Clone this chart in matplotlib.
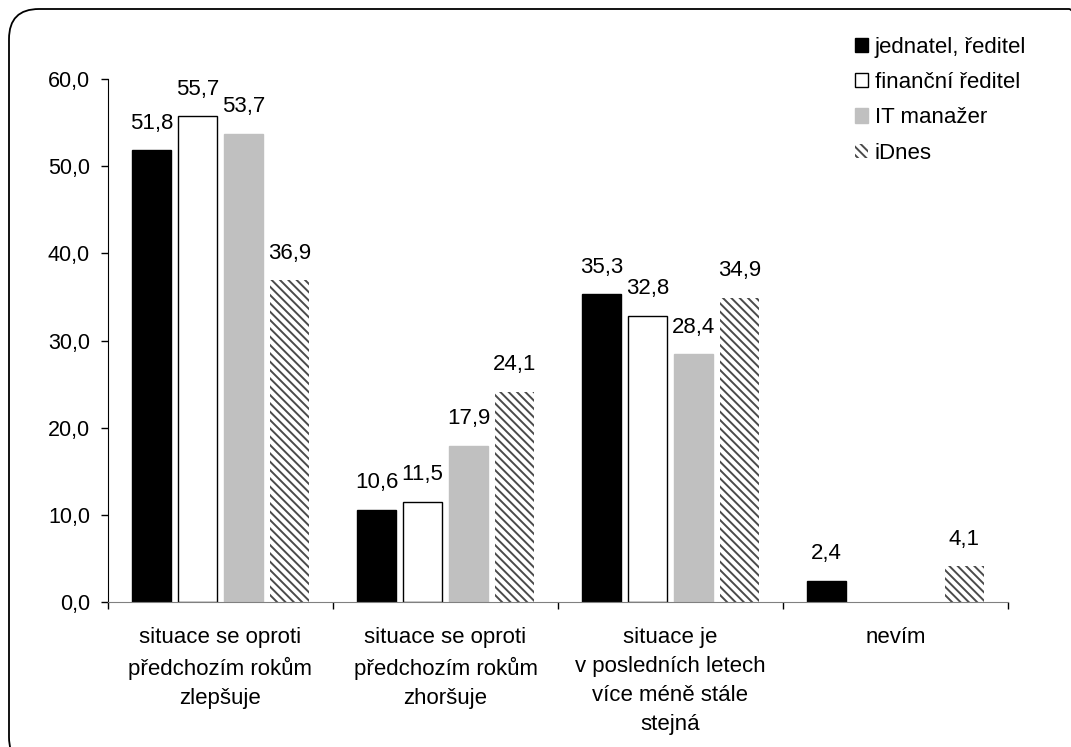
import numpy as np
import matplotlib
matplotlib.use("Agg")
import matplotlib.pyplot as plt
from matplotlib.patches import FancyBboxPatch

plt.rcParams['font.family'] = ['Liberation Sans', 'DejaVu Sans']
plt.rcParams['hatch.linewidth'] = 1.4

categories = ["situace se oproti\npředchozím rokům\nzlepšuje",
              "situace se oproti\npředchozím rokům\nzhoršuje",
              "situace je\nv posledních letech\nvíce méně stále\nstejná",
              "nevím"]
series_names = ["jednatel, ředitel", "finanční ředitel", "IT manažer", "iDnes"]
jednatel = [51.8, 10.6, 35.3, 2.4]
financni = [55.7, 11.5, 32.8, None]
it_manazer = [53.7, 17.9, 28.4, None]
idnes = [36.9, 24.1, 34.9, 4.1]
yticks = [0, 10, 20, 30, 40, 50, 60]

series = [jednatel, financni, it_manazer, idnes]
styles = [dict(color="black", edgecolor="black"),
          dict(color="white", edgecolor="black", linewidth=1),
          dict(color="#c0c0c0", edgecolor="#c0c0c0"),
          dict(color="white", edgecolor="#4a4a4a", hatch="\\\\\\\\", linewidth=0)]

fig = plt.figure(figsize=(10.71, 7.47), dpi=100)
ax = fig.add_axes([108/1071, 1-602/747, 900/1071, 523/747])

x = np.arange(len(categories)) + 0.5
width = 0.173
offsets = [-1.5, -0.5, 0.5, 1.5]
for vals, name, st, off in zip(series, series_names, styles, offsets):
    xs = [xi + off*0.204 for xi, v in zip(x, vals) if v is not None]
    vs = [v for v in vals if v is not None]
    bars = ax.bar(xs, vs, width, label=name, **st)
    for b, v in zip(bars, vs):
        ax.annotate(f"{v:.1f}".replace(".", ","), (b.get_x()+b.get_width()/2, v),
                    xytext=(0, 12), textcoords="offset points", ha="center", va="bottom", fontsize=16)

ax.set_xlim(0, 4)
ax.set_ylim(0, 60)
ax.set_yticks(yticks)
ax.set_yticklabels([f"{t:.1f}".replace(".", ",") for t in yticks], fontsize=15.5)
ax.set_xticks([0, 1, 2, 3, 4])
ax.set_xticklabels([])
ax.set_xticks(x, minor=True)
ax.set_xticklabels(categories, minor=True, fontsize=16, linespacing=1.5, va="top")
ax.tick_params(axis="x", which="minor", length=0, pad=18)
ax.tick_params(axis="x", which="major", length=5, width=1, direction="out")
ax.tick_params(axis="y", length=5, width=1, direction="out", pad=8)
ax.spines["top"].set_visible(False)
ax.spines["right"].set_visible(False)
ax.spines["bottom"].set_color("#808080")
ax.spines["left"].set_color("black")

ax.legend(loc="upper left", bbox_to_anchor=(846/1071, 1-28/747), bbox_transform=fig.transFigure,
          frameon=False, fontsize=16, handlelength=0.6, handleheight=0.6,
          handletextpad=0.3, labelspacing=0.64, borderaxespad=0)

border = FancyBboxPatch((9, -20), 1090, 758, boxstyle="round,pad=0,rounding_size=30",
                        transform=None, facecolor="none", edgecolor="black", linewidth=1.3)
fig.patches.append(border)

fig.savefig("out.png", dpi=100)
